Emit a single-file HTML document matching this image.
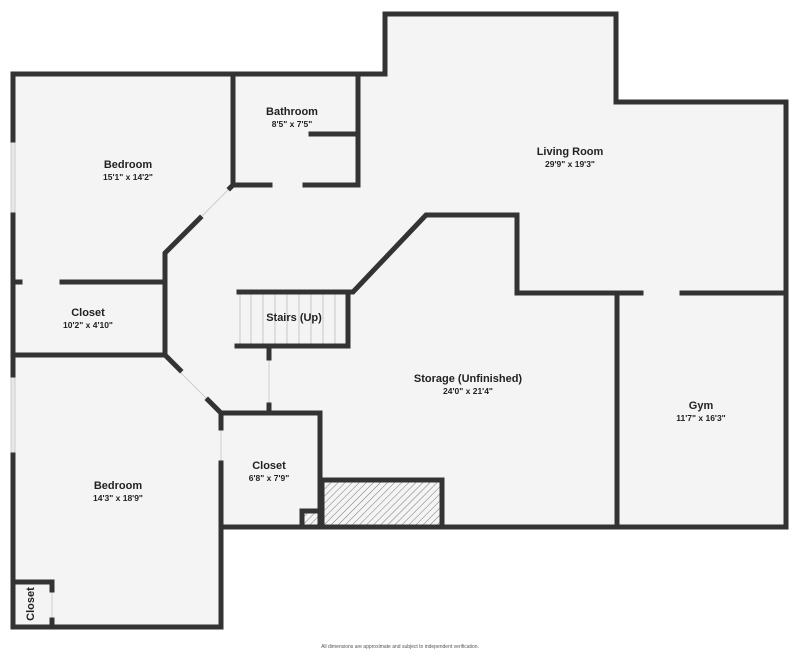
<!DOCTYPE html>
<html><head><style>
body{margin:0;background:#fff;}
svg{display:block;}
text{font-family:"Liberation Sans",sans-serif;fill:#222;text-anchor:middle;}
.t{font-size:11px;font-weight:bold;}
.d{font-size:8.5px;font-weight:bold;}
</style></head><body>
<svg width="800" height="652" viewBox="0 0 800 652" xmlns="http://www.w3.org/2000/svg">
<defs>
<pattern id="h" width="5" height="5" patternUnits="userSpaceOnUse" patternTransform="rotate(45)">
<rect width="5" height="5" fill="#f4f4f4"/><line x1="0" y1="0" x2="0" y2="5" stroke="#777" stroke-width="1"/>
</pattern>
</defs>
<polygon points="13,74 385,74 385,14 616,14 616,102 786,102 786,527 221,527 221,627 13,627" fill="#f4f4f4"/>
<rect x="322" y="480" width="120" height="47" fill="url(#h)"/>
<rect x="302" y="511" width="18" height="16" fill="url(#h)"/>
<g stroke="#e8e8e8" stroke-width="3" fill="none">
<line x1="13" y1="140" x2="13" y2="215"/><line x1="13" y1="375" x2="13" y2="455"/>
</g>
<g stroke="#ccc" stroke-width="1" fill="none">
<line x1="11" y1="140" x2="11" y2="215"/><line x1="15" y1="140" x2="15" y2="215"/>
<line x1="11" y1="375" x2="11" y2="455"/><line x1="15" y1="375" x2="15" y2="455"/>
<line x1="230" y1="188" x2="200" y2="218"/><line x1="180" y1="372" x2="208" y2="400"/>
<line x1="269" y1="360" x2="269" y2="405"/><line x1="221" y1="428" x2="221" y2="463"/>
<line x1="52" y1="592" x2="52" y2="618"/>
</g>
<g stroke="#bbb" stroke-width="0.8">
<line x1="251" y1="292" x2="251" y2="346"/><line x1="263" y1="292" x2="263" y2="346"/><line x1="275" y1="292" x2="275" y2="346"/><line x1="287" y1="292" x2="287" y2="346"/><line x1="299" y1="292" x2="299" y2="346"/><line x1="311" y1="292" x2="311" y2="346"/><line x1="323" y1="292" x2="323" y2="346"/><line x1="335" y1="292" x2="335" y2="346"/>
<line x1="240" y1="292" x2="240" y2="346"/>
</g>
<g stroke="#333" stroke-width="5" fill="none" stroke-linecap="square" stroke-linejoin="miter">
<polyline points="13,140 13,74 385,74 385,14 616,14 616,102 786,102 786,527 221,527 221,627 13,627 13,455"/>
<line x1="13" y1="215" x2="13" y2="375"/>
<polyline points="233,74 233,185 270,185"/>
<polyline points="305,185 358,185 358,74"/>
<line x1="311" y1="134" x2="358" y2="134"/>
<line x1="233" y1="185" x2="230" y2="188"/>
<polyline points="200,218 165,253 165,355 180,370"/>
<line x1="13" y1="282" x2="20" y2="282"/><line x1="62" y1="282" x2="165" y2="282"/>
<line x1="13" y1="355" x2="165" y2="355"/>
<polyline points="208,400 221,413 221,428"/>
<line x1="221" y1="463" x2="221" y2="527"/>
<polyline points="221,413 320,413 320,527"/>
<line x1="269" y1="413" x2="269" y2="405"/><line x1="269" y1="348" x2="269" y2="358"/>
<polyline points="239,292 348,292 348,346 237,346"/>
<polyline points="348,292 353,292 426,215 517,215 517,293 641,293"/>
<line x1="682" y1="293" x2="786" y2="293"/>
<line x1="617" y1="293" x2="617" y2="527"/>
<polyline points="322,527 322,480 442,480 442,527"/>
<polyline points="302,527 302,511 320,511"/>
<polyline points="13,582 52,582 52,590"/>
<line x1="52" y1="620" x2="52" y2="627"/>
</g>
<text class="t" x="128" y="168">Bedroom</text><text class="d" x="128" y="180">15'1" x 14'2"</text>
<text class="t" x="292" y="115">Bathroom</text><text class="d" x="292" y="127">8'5" x 7'5"</text>
<text class="t" x="570" y="155">Living Room</text><text class="d" x="570" y="167">29'9" x 19'3"</text>
<text class="t" x="88" y="316">Closet</text><text class="d" x="88" y="328">10'2" x 4'10"</text>
<text class="t" x="294" y="321">Stairs (Up)</text>
<text class="t" x="468" y="382">Storage (Unfinished)</text><text class="d" x="468" y="394">24'0" x 21'4"</text>
<text class="t" x="701" y="409">Gym</text><text class="d" x="701" y="421">11'7" x 16'3"</text>
<text class="t" x="269" y="469">Closet</text><text class="d" x="269" y="481">6'8" x 7'9"</text>
<text class="t" x="118" y="489">Bedroom</text><text class="d" x="118" y="501">14'3" x 18'9"</text>
<text class="t" x="0" y="0" transform="translate(34,604) rotate(-90)">Closet</text>
<text x="400" y="648" style="font-size:5px;fill:#555">All dimensions are approximate and subject to independent verification.</text>
</svg>
</body></html>
